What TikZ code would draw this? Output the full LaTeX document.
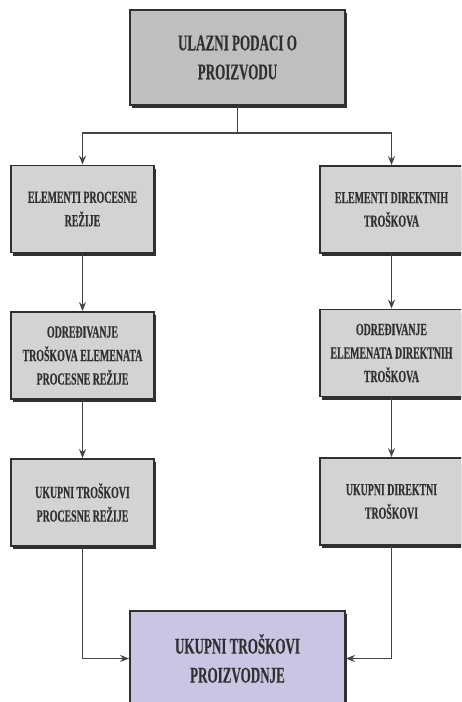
\documentclass[tikz,border=0pt]{standalone}
\usepackage{fontspec}
\newfontfamily\condb{Liberation Serif Bold}[FakeStretch=0.58,FakeBold=0.3]
\usetikzlibrary{arrows.meta,shadows}
\definecolor{boxgray}{HTML}{D3D3D3}
\definecolor{topgray}{HTML}{BFBFBF}
\definecolor{lav}{HTML}{C9C5E3}
\definecolor{edge}{HTML}{303030}
\definecolor{txt}{HTML}{303030}
\tikzset{
  box/.style={draw=edge, line width=1.8pt, rectangle, align=center,
    text=txt, font=\condb\fontsize{17}{23.5}\selectfont,
    drop shadow={shadow xshift=1.8pt, shadow yshift=-3.2pt, opacity=1, fill=edge},
    minimum width=143pt, minimum height=87pt, inner sep=0pt},
  smallbox/.style={box, fill=boxgray},
  bigbox/.style={box, minimum width=215pt, minimum height=95pt,
    font=\condb\fontsize{22.5}{29}\selectfont},
  conn/.style={draw=edge!90, line width=1.2pt,
    -{Stealth[length=9pt,width=7pt,inset=3pt]}},
  plain/.style={draw=edge!90, line width=1.2pt}
}
\begin{document}
\begin{tikzpicture}[x=1pt,y=-1pt]
\useasboundingbox (0,0) rectangle (461,702);
\clip (0,0) rectangle (461,702);
\node[bigbox, fill=topgray] (top) at (237.5,57.5) {ULAZNI PODACI O\\PROIZVODU};
\node[smallbox] (l1) at (82.5,209) {ELEMENTI PROCESNE\\REŽIJE};
\node[smallbox] (l2) at (82.5,355.5) {ODREĐIVANJE\\TROŠKOVA ELEMENATA\\PROCESNE REŽIJE};
\node[smallbox] (l3) at (82.5,502.5) {UKUPNI TROŠKOVI\\PROCESNE REŽIJE};
\node[smallbox] (r1) at (391.5,209.5) {ELEMENTI DIREKTNIH\\TROŠKOVA};
\node[smallbox] (r2) at (391.5,353) {ODREĐIVANJE\\ELEMENATA DIREKTNIH\\TROŠKOVA};
\node[smallbox] (r3) at (391.5,501.5) {UKUPNI DIREKTNI\\TROŠKOVI};
\node[bigbox, fill=lav] (bot) at (237.5,658.5) {UKUPNI TROŠKOVI\\PROIZVODNJE};
\coordinate (split) at (237.5,133);
\draw[plain] (top.south) -- (split);
\draw[conn] (split) -| (l1.north);
\draw[conn] (split) -| (r1.north);
\draw[conn] (l1.south) -- (l2.north);
\draw[conn] (l2.south) -- (l3.north);
\draw[conn] (r1.south) -- (r2.north);
\draw[conn] (r2.south) -- (r3.north);
\draw[conn] (l3.south) |- (bot.west);
\draw[conn] (r3.south) |- (bot.east);
\end{tikzpicture}
\end{document}
